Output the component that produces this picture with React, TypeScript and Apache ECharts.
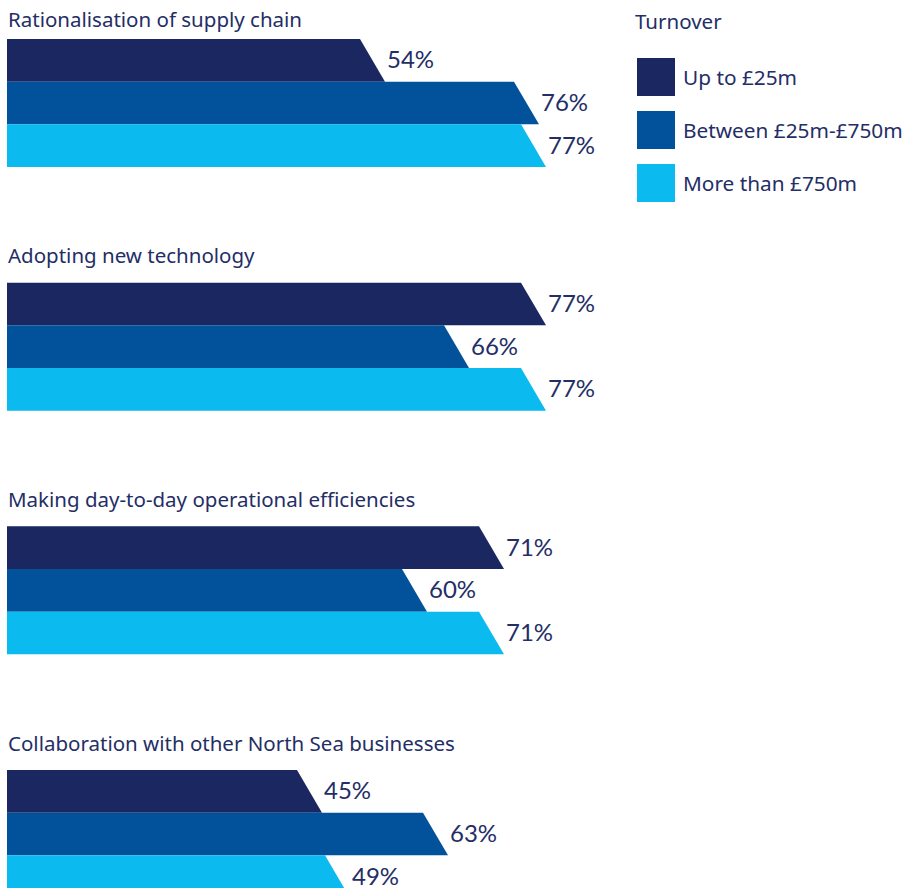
import React, { useEffect, useRef } from "react";
import * as echarts from "echarts";

const categories = [
  "Rationalisation of supply chain",
  "Adopting new technology",
  "Making day-to-day operational efficiencies",
  "Collaboration with other North Sea businesses",
];
const seriesNames = ["Up to £25m", "Between £25m-£750m", "More than £750m"];
const upTo25m = [54, 77, 71, 45];
const between25m750m = [76, 66, 60, 63];
const moreThan750m = [77, 77, 71, 49];
const legendTitle = "Turnover";

const COLORS = ["#1a2761", "#02529b", "#0bbaee"];
const TEXT = "#242e66";
const FONT = "'Noto Sans', Lato, sans-serif";
const NUM_FONT = "Lato, 'Noto Sans', sans-serif";
const BAND = 243.67;
const BAR_H = 42.67;
const BAR_OFFSET = 39;
const SLANT = 25;
const H = 888;

export default function App() {
  const ref = useRef<HTMLDivElement>(null);
  useEffect(() => {
    document.body.style.margin = "0";
    if (!ref.current) return;
    const chart = echarts.init(ref.current, undefined, { renderer: "svg" });
    const values = [upTo25m, between25m750m, moreThan750m];
    const makeRender = (j: number) => (params: any, api: any) => {
      const cat = api.value(0);
      const val = api.value(1);
      const p0 = api.coord([0, cat]);
      const pv = api.coord([val, cat]);
      const bandStart = p0[1];
      const top = bandStart + BAR_OFFSET + j * BAR_H;
      const children: any[] = [
        {
          type: "polygon",
          shape: {
            points: [
              [p0[0], top],
              [pv[0] - SLANT, top],
              [pv[0], top + BAR_H],
              [p0[0], top + BAR_H],
            ],
          },
          style: { fill: COLORS[j] },
        },
        {
          type: "text",
          x: pv[0] + 2,
          y: top + BAR_H / 2 - 1.5,
          style: {
            text: `${val}%`,
            fill: TEXT,
            font: `24px ${NUM_FONT}`,
            align: "left",
            verticalAlign: "middle",
          },
        },
      ];
      if (j === 0) {
        const gap = cat === 0 ? 20 : 27.5;
        children.push({
          type: "text",
          x: p0[0] + 1,
          y: top - gap,
          style: {
            text: categories[cat],
            fill: TEXT,
            font: `20.5px ${FONT}`,
            align: "left",
            verticalAlign: "middle",
          },
        });
      }
      return { type: "group", children };
    };
    chart.setOption({
      animation: false,
      title: {
        text: legendTitle,
        left: 635,
        top: 10,
        padding: 0,
        textStyle: { fontSize: 20.5, fontWeight: "normal", color: TEXT, fontFamily: FONT },
      },
      legend: {
        orient: "vertical",
        left: 637,
        top: 58,
        padding: 0,
        itemWidth: 38,
        itemHeight: 38,
        itemGap: 15,
        selectedMode: false,
        data: seriesNames.map((n) => ({ name: n, icon: "rect" })),
        textStyle: { fontSize: 20.8, color: TEXT, fontFamily: FONT, padding: [0, 0, 0, 3] },
      },
      grid: { left: 7, top: 0, width: 700, height: H },
      xAxis: { type: "value", min: 0, max: 100, show: false },
      yAxis: { type: "value", min: 0, max: H / BAND, inverse: true, show: false },
      series: values.map((arr, j) => ({
        type: "custom",
        name: seriesNames[j],
        itemStyle: { color: COLORS[j] },
        encode: { x: 1, y: 0 },
        silent: true,
        clip: false,
        data: arr.map((v, i) => [i, v]),
        renderItem: makeRender(j),
      })),
    });
    return () => chart.dispose();
  }, []);
  return <div ref={ref} style={{ width: 905, height: 888 }} />;
}
